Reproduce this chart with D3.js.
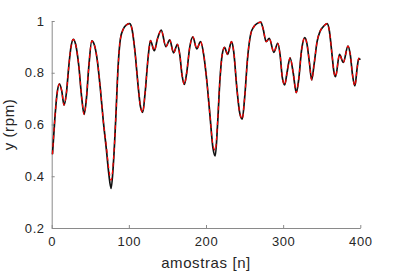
<!DOCTYPE html>
<html>
<head>
<meta charset="utf-8">
<script src="https://cdn.jsdelivr.net/npm/d3@7"></script>
<style>
  body { margin: 0; background: #fff; }
  text { font-family: "Liberation Sans", Arial, sans-serif; }
</style>
</head>
<body>
<div id="chart"></div>
<script>
// sample index and the two series
var samples = [1,4,7,10,13,16,19,22,25,28,31,35,39,42,45,48,52,55,59,63,67,71,74,77,80,83,86,89,93,97,
  101,104,108,112,115,118,121,125,128,133,137,142,148,153,158,163,166,169,172,175,179,183,188,193,197,
  201,205,209,212,215,218,221,224,228,233,236,240,244,247,250,254,258,262,266,271,274,278,282,288,293,
  296,299,302,305,309,313,317,320,324,328,331,334,337,340,344,348,352,357,360,363,366,368,373,378,384,
  387,390,393,396,398,400];
var yMeas = [0.485,0.62,0.72,0.757,0.73,0.675,0.72,0.82,0.9,0.929,0.91,0.83,0.70,0.639,0.70,0.82,0.923,0.91,0.85,0.74,
  0.61,0.50,0.41,0.353,0.45,0.62,0.82,0.93,0.97,0.985,
  0.99,0.97,0.88,0.75,0.67,0.647,0.72,0.86,0.924,0.885,0.93,0.965,0.901,0.927,0.877,0.91,0.87,0.79,0.755,0.80,
  0.90,0.939,0.892,0.92,0.87,
  0.77,0.64,0.51,0.479,0.60,0.77,0.87,0.898,0.871,0.92,0.88,0.74,0.64,0.621,0.70,0.86,0.95,0.978,0.99,0.996,
  0.97,0.92,0.933,0.879,0.914,
  0.87,0.78,0.753,0.80,0.858,0.80,0.723,0.77,0.89,0.936,0.91,0.84,0.772,0.83,0.92,0.961,0.978,0.990,0.96,0.88,
  0.80,0.785,0.871,0.84,0.903,
  0.87,0.79,0.749,0.82,0.856,0.85];
var yEst = [0.485,0.62,0.72,0.757,0.73,0.675,0.72,0.82,0.9,0.929,0.91,0.83,0.70,0.639,0.70,0.82,0.923,0.91,0.85,0.74,
  0.61,0.51,0.43,0.385,0.46,0.62,0.82,0.93,0.97,0.985,
  0.99,0.97,0.88,0.75,0.67,0.647,0.72,0.86,0.924,0.885,0.93,0.965,0.901,0.927,0.877,0.91,0.87,0.79,0.755,0.80,
  0.90,0.939,0.892,0.92,0.87,
  0.77,0.64,0.52,0.50,0.61,0.77,0.87,0.898,0.871,0.92,0.88,0.74,0.64,0.621,0.70,0.86,0.95,0.978,0.99,0.996,
  0.97,0.92,0.933,0.879,0.914,
  0.87,0.78,0.753,0.80,0.858,0.80,0.723,0.77,0.89,0.936,0.91,0.84,0.772,0.83,0.92,0.961,0.978,0.990,0.96,0.88,
  0.80,0.785,0.871,0.84,0.903,
  0.87,0.79,0.749,0.82,0.856,0.85];
var xTicks = [0,100,200,300,400];
var yTicks = [0.2,0.4,0.6,0.8,1];

var width = 399, height = 277;
var margin = {top: 21, right: 38.7, bottom: 49, left: 51.7};

var svg = d3.select("#chart").append("svg")
    .attr("width", width).attr("height", height);

var x = d3.scaleLinear().domain([0, 400]).range([margin.left, width - margin.right]);
var y = d3.scaleLinear().domain([0.2, 1]).range([height - margin.bottom, margin.top]);

var axisCol = "#8a8a8a", textCol = "#262626";

// axes, MATLAB style ticks pointing inward
var gx = svg.append("g")
    .attr("transform", "translate(0," + y(0.2) + ")")
    .call(d3.axisBottom(x).tickValues(xTicks).tickSizeInner(-3).tickSizeOuter(0).tickPadding(9)
      .tickFormat(d3.format("d")));
var gy = svg.append("g")
    .attr("transform", "translate(" + x(0) + ",0)")
    .call(d3.axisLeft(y).tickValues(yTicks).tickSizeInner(-3).tickSizeOuter(0).tickPadding(7)
      .tickFormat(function(d) { return d === 1 ? "1" : d3.format(".1f")(d); }));

[gx, gy].forEach(function(g) {
  g.select(".domain").attr("stroke", axisCol).attr("stroke-width", 1);
  g.selectAll(".tick line").attr("stroke", axisCol);
  g.selectAll(".tick text")
    .attr("fill", textCol)
    .style("font-size", "13px")
    .style("letter-spacing", "0.6px")
    .style("font-family", "'Liberation Sans', Arial, sans-serif");
});
gx.selectAll(".tick text").attr("dy", "0.71em");

// labels
svg.append("text")
    .attr("x", (x(0) + x(400)) / 2)
    .attr("y", 268)
    .attr("text-anchor", "middle")
    .attr("fill", textCol)
    .style("font-size", "15px")
    .style("letter-spacing", "0.6px")
    .text("amostras [n]");
svg.append("text")
    .attr("transform", "translate(14," + (y(0.2) + y(1)) / 2 + ") rotate(-90)")
    .attr("text-anchor", "middle")
    .attr("fill", textCol)
    .style("font-size", "15px")
    .style("letter-spacing", "0.6px")
    .text("y (rpm)");

// lines
var lineMeas = d3.line()
    .curve(d3.curveMonotoneX)
    .x(function(d, i) { return x(samples[i]); })
    .y(function(d) { return y(d); });

svg.append("path")
    .datum(yMeas)
    .attr("fill", "none")
    .attr("stroke", "#111")
    .attr("stroke-width", 1.7)
    .attr("d", lineMeas);

svg.append("path")
    .datum(yEst)
    .attr("fill", "none")
    .attr("stroke", "#ff0000")
    .attr("stroke-width", 1.2)
    .style("stroke-dasharray", "4, 3.5")
    .attr("d", lineMeas);
</script>
</body>
</html>
